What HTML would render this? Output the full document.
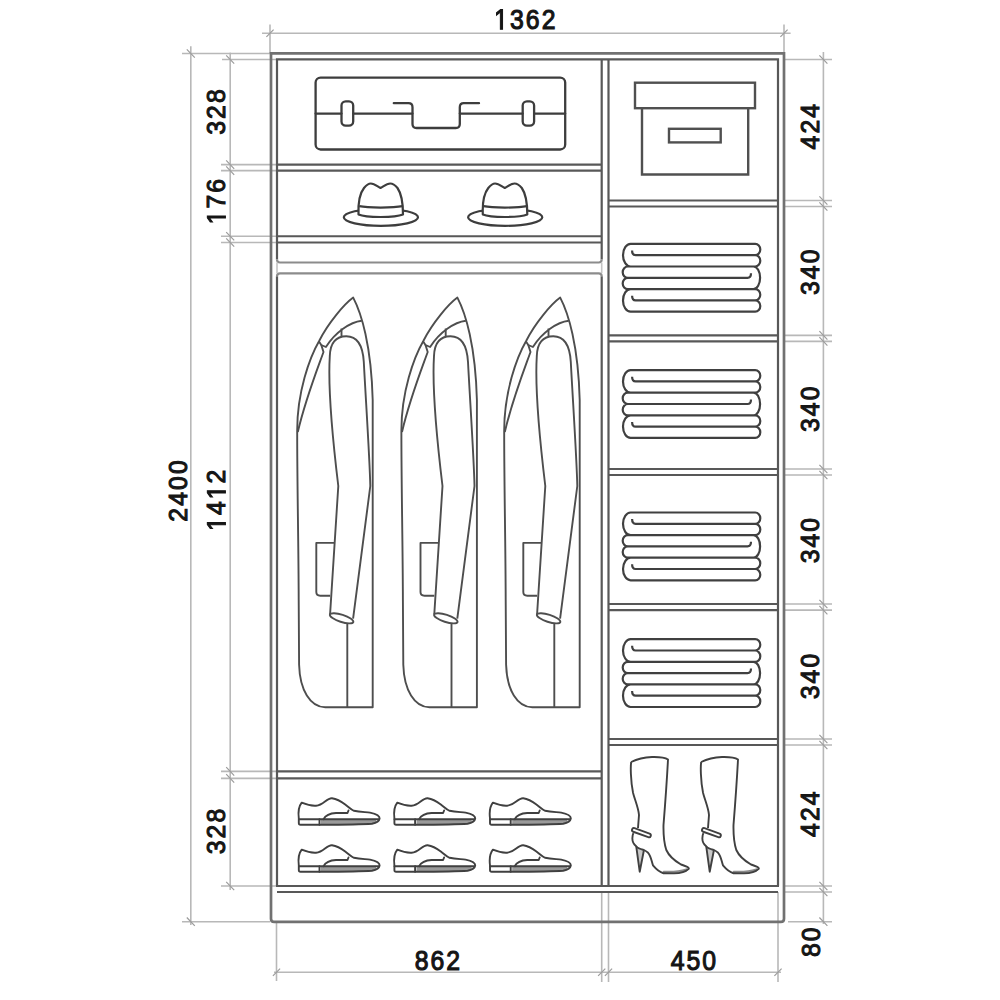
<!DOCTYPE html>
<html><head><meta charset="utf-8"><style>
html,body{margin:0;padding:0;background:#fff;}
svg{display:block;}
</style></head><body>
<svg width="1000" height="1000" viewBox="0 0 1000 1000">
<rect width="1000" height="1000" fill="#fff"/>
<path d="M262,33.2H790.6 M270,24.5V53 M784,24.5V53 M190.8,46.2V925 M182,53.5H270 M182,921.7H270 M230.2,52.6V890 M222,59.5H277 M221,164.6H277 M221,170.6H277 M221,236.25H277 M221,242.5H277 M221,771.4H277 M221,778.4H277 M221,886H277 M823.4,52V924 M784,59.5H832 M784,200.5H832 M784,206.5H832 M784,335.4H832 M784,341.4H832 M784,469H832 M784,475H832 M784,604H832 M784,610.1H832 M784,739H832 M784,745H832 M784,886H832 M784,892H832 M788,921.7H832 M274,972.2H781 M276.5,922V981 M601.7,892V982 M608.5,892V982 M778,892V982" stroke="#b8b8b8" stroke-width="1.6" fill="none"/>
<path d="M266.4,36.800000000000004L273.6,29.6 M780.4,36.800000000000004L787.6,29.6 M186.8,49.3L194.8,57.7 M186.8,917.5L194.8,925.9000000000001 M226.2,55.3L234.2,63.7 M226.2,160.4L234.2,168.79999999999998 M226.2,166.4L234.2,174.79999999999998 M226.2,232.05L234.2,240.45 M226.2,238.3L234.2,246.7 M226.2,767.1999999999999L234.2,775.6 M226.2,774.1999999999999L234.2,782.6 M226.2,881.8L234.2,890.2 M819.4,55.3L827.4,63.7 M819.4,196.3L827.4,204.7 M819.4,202.3L827.4,210.7 M819.4,331.2L827.4,339.59999999999997 M819.4,337.2L827.4,345.59999999999997 M819.4,464.8L827.4,473.2 M819.4,470.8L827.4,479.2 M819.4,599.8L827.4,608.2 M819.4,605.9L827.4,614.3000000000001 M819.4,734.8L827.4,743.2 M819.4,740.8L827.4,749.2 M819.4,881.8L827.4,890.2 M819.4,887.8L827.4,896.2 M819.4,917.5L827.4,925.9000000000001 M272.9,975.8000000000001L280.1,968.6 M598.1,975.8000000000001L605.3000000000001,968.6 M604.9,975.8000000000001L612.1,968.6 M774.4,975.8000000000001L781.6,968.6" stroke="#9c9c9c" stroke-width="1.2" fill="none"/>
<g style="font-family:'Liberation Sans',sans-serif;font-size:28.5px;fill:#151515;stroke:#151515;stroke-width:1.15px">
<g transform="translate(524.80,29.30) scale(1.0,1)"><path d="M515 0H696V1409H530L197 1180V1010L515 1237Z" transform="translate(-23.78,0) scale(0.87,1) translate(-7.93,0) scale(0.01392,-0.01392)" fill="#151515" stroke="#151515" stroke-width="82.6"/><text x="0" y="0" text-anchor="middle" transform="translate(-7.93,0) scale(0.87,1)">3</text><text x="0" y="0" text-anchor="middle" transform="translate(7.93,0) scale(0.87,1)">6</text><text x="0" y="0" text-anchor="middle" transform="translate(23.78,0) scale(0.87,1)">2</text></g>
<g transform="translate(437.40,969.70) scale(1.0,1)"><text x="0" y="0" text-anchor="middle" transform="translate(-15.85,0) scale(0.87,1)">8</text><text x="0" y="0" text-anchor="middle" transform="translate(0.00,0) scale(0.87,1)">6</text><text x="0" y="0" text-anchor="middle" transform="translate(15.85,0) scale(0.87,1)">2</text></g>
<g transform="translate(693.40,969.70) scale(1.0,1)"><text x="0" y="0" text-anchor="middle" transform="translate(-15.85,0) scale(0.87,1)">4</text><text x="0" y="0" text-anchor="middle" transform="translate(0.00,0) scale(0.87,1)">5</text><text x="0" y="0" text-anchor="middle" transform="translate(15.85,0) scale(0.87,1)">0</text></g>
<g transform="translate(187.00,491.00) rotate(-90) scale(1,0.92)"><text x="0" y="0" text-anchor="middle" transform="translate(-23.78,0) scale(0.87,1)">2</text><text x="0" y="0" text-anchor="middle" transform="translate(-7.93,0) scale(0.87,1)">4</text><text x="0" y="0" text-anchor="middle" transform="translate(7.93,0) scale(0.87,1)">0</text><text x="0" y="0" text-anchor="middle" transform="translate(23.78,0) scale(0.87,1)">0</text></g>
<g transform="translate(225.40,112.00) rotate(-90) scale(1,0.92)"><text x="0" y="0" text-anchor="middle" transform="translate(-15.85,0) scale(0.87,1)">3</text><text x="0" y="0" text-anchor="middle" transform="translate(0.00,0) scale(0.87,1)">2</text><text x="0" y="0" text-anchor="middle" transform="translate(15.85,0) scale(0.87,1)">8</text></g>
<g transform="translate(225.40,201.60) rotate(-90) scale(1,0.92)"><path d="M515 0H696V1409H530L197 1180V1010L515 1237Z" transform="translate(-15.85,0) scale(0.87,1) translate(-7.93,0) scale(0.01392,-0.01392)" fill="#151515" stroke="#151515" stroke-width="82.6"/><text x="0" y="0" text-anchor="middle" transform="translate(0.00,0) scale(0.87,1)">7</text><text x="0" y="0" text-anchor="middle" transform="translate(15.85,0) scale(0.87,1)">6</text></g>
<g transform="translate(225.40,500.30) rotate(-90) scale(1,0.92)"><path d="M515 0H696V1409H530L197 1180V1010L515 1237Z" transform="translate(-23.78,0) scale(0.87,1) translate(-7.93,0) scale(0.01392,-0.01392)" fill="#151515" stroke="#151515" stroke-width="82.6"/><text x="0" y="0" text-anchor="middle" transform="translate(-7.93,0) scale(0.87,1)">4</text><path d="M515 0H696V1409H530L197 1180V1010L515 1237Z" transform="translate(7.93,0) scale(0.87,1) translate(-7.93,0) scale(0.01392,-0.01392)" fill="#151515" stroke="#151515" stroke-width="82.6"/><text x="0" y="0" text-anchor="middle" transform="translate(23.78,0) scale(0.87,1)">2</text></g>
<g transform="translate(225.40,831.50) rotate(-90) scale(1,0.92)"><text x="0" y="0" text-anchor="middle" transform="translate(-15.85,0) scale(0.87,1)">3</text><text x="0" y="0" text-anchor="middle" transform="translate(0.00,0) scale(0.87,1)">2</text><text x="0" y="0" text-anchor="middle" transform="translate(15.85,0) scale(0.87,1)">8</text></g>
<g transform="translate(819.00,126.70) rotate(-90) scale(1,0.92)"><text x="0" y="0" text-anchor="middle" transform="translate(-15.85,0) scale(0.87,1)">4</text><text x="0" y="0" text-anchor="middle" transform="translate(0.00,0) scale(0.87,1)">2</text><text x="0" y="0" text-anchor="middle" transform="translate(15.85,0) scale(0.87,1)">4</text></g>
<g transform="translate(819.00,272.30) rotate(-90) scale(1,0.92)"><text x="0" y="0" text-anchor="middle" transform="translate(-15.85,0) scale(0.87,1)">3</text><text x="0" y="0" text-anchor="middle" transform="translate(0.00,0) scale(0.87,1)">4</text><text x="0" y="0" text-anchor="middle" transform="translate(15.85,0) scale(0.87,1)">0</text></g>
<g transform="translate(819.00,409.30) rotate(-90) scale(1,0.92)"><text x="0" y="0" text-anchor="middle" transform="translate(-15.85,0) scale(0.87,1)">3</text><text x="0" y="0" text-anchor="middle" transform="translate(0.00,0) scale(0.87,1)">4</text><text x="0" y="0" text-anchor="middle" transform="translate(15.85,0) scale(0.87,1)">0</text></g>
<g transform="translate(819.00,540.60) rotate(-90) scale(1,0.92)"><text x="0" y="0" text-anchor="middle" transform="translate(-15.85,0) scale(0.87,1)">3</text><text x="0" y="0" text-anchor="middle" transform="translate(0.00,0) scale(0.87,1)">4</text><text x="0" y="0" text-anchor="middle" transform="translate(15.85,0) scale(0.87,1)">0</text></g>
<g transform="translate(819.00,676.50) rotate(-90) scale(1,0.92)"><text x="0" y="0" text-anchor="middle" transform="translate(-15.85,0) scale(0.87,1)">3</text><text x="0" y="0" text-anchor="middle" transform="translate(0.00,0) scale(0.87,1)">4</text><text x="0" y="0" text-anchor="middle" transform="translate(15.85,0) scale(0.87,1)">0</text></g>
<g transform="translate(819.00,814.20) rotate(-90) scale(1,0.92)"><text x="0" y="0" text-anchor="middle" transform="translate(-15.85,0) scale(0.87,1)">4</text><text x="0" y="0" text-anchor="middle" transform="translate(0.00,0) scale(0.87,1)">2</text><text x="0" y="0" text-anchor="middle" transform="translate(15.85,0) scale(0.87,1)">4</text></g>
<g transform="translate(819.50,942.30) rotate(-90) scale(1,0.92)"><text x="0" y="0" text-anchor="middle" transform="translate(-7.93,0) scale(0.87,1)">8</text><text x="0" y="0" text-anchor="middle" transform="translate(7.93,0) scale(0.87,1)">0</text></g>
</g>
<path d="M271,53.4H784V918.7Q784,921.9 780.8,921.9H274.2Q271,921.9 271,918.7Z" stroke="#717171" stroke-width="2.7" fill="none"/>
<path d="M277,259.5V59.4H778V886 M601.7,259.5V59.4 M608.5,59.4V886 M277,276.3V886 M601.7,276.3V886 M276,886H779 M277,892H778 M277,164.6H601.7 M277,170.6H601.7 M277,236.25H601.7 M277,242.5H601.7 M277,771.4H601.7 M277,778.4H601.7 M608.5,200.5H778 M608.5,206.5H778 M608.5,335.4H778 M608.5,341.4H778 M608.5,469H778 M608.5,475H778 M608.5,604H778 M608.5,610.1H778 M608.5,739H778 M608.5,745H778" stroke="#585858" stroke-width="2.2" fill="none"/>
<path d="M277,259.5Q277,262.5 280,262.5H598.7Q601.7,262.5 601.7,259.5 M277,276.3Q277,273.3 280,273.3H598.7Q601.7,273.3 601.7,276.3" stroke="#8c8c8c" stroke-width="2.2" fill="none"/>
<path d="M277,262.5V273.3 M601.7,262.5V273.3" stroke="#c4c4c4" stroke-width="1.6"/>
<g stroke="#3d3d3d" stroke-width="2.3" fill="none" stroke-linecap="round" stroke-linejoin="round">
<rect x="315.6" y="77.6" width="249.6" height="71.9" rx="5"/>
<path d="M315.6,113.6H341.5 M353.2,113.6H412.5 M459.8,113.6H522.7 M534.1,113.6H565.2"/>
<rect x="341.5" y="101.4" width="11.7" height="24.3" rx="4.2"/>
<rect x="522.7" y="101.4" width="11.4" height="24.3" rx="4.2"/>
<path d="M393.8,103.2H408.5Q412.5,103.2 412.5,107.2V124Q412.5,128 416.5,128H455.8Q459.8,128 459.8,124V107.2Q459.8,103.2 463.8,103.2H479"/>
</g>
<g id="hat"><g stroke="#3d3d3d" stroke-width="2.2" fill="none" stroke-linejoin="round">
<ellipse cx="380.9" cy="217.3" rx="37.1" ry="8.5"/>
<path d="M358.5,214.5C358,202 360,193 364,188C366.5,185 368,183.5 370.8,183.5C374.5,183.5 377.5,186.5 380.5,188C383.5,186.5 386.5,183.5 390.2,183.5C393,183.5 395,185 397.5,188C401,193 403,202 403,214.5C395,217.8 366,217.8 358.5,214.5Z" fill="#fff"/>
<path d="M359.2,206.2C368,208 393,208 402.6,206.2"/>
</g></g>
<use href="#hat" transform="translate(124.3,0)"/>
<g stroke="#505050" stroke-width="2.4" fill="none">
<rect x="635" y="82.7" width="120" height="25.5"/>
<path d="M642,108.2V174.5H748.2V108.2"/>
<rect x="669" y="128.8" width="51.7" height="13.6"/>
</g>
<path d="M755.2,243.9H630.6A7.6,11.3 0 0 0 630.6,266.5H755.2 M755.2,243.9A5.1,5.65 0 0 1 755.2,255.20000000000002A5.1,5.65 0 0 1 755.2,266.5 M632.1,250.50000000000003Q632.1,255.20000000000002 635.6,255.20000000000002H755.2 M627.8,266.5H753.5A6.6,11.3 0 0 1 753.5,289.1H627.8 M627.8,266.5A5.1,5.65 0 0 0 627.8,277.8A5.1,5.65 0 0 0 627.8,289.1 M751.0,273.2Q751.0,277.8 747.5,277.8H627.8 M755.2,289.1H630.6A7.6,11.3 0 0 0 630.6,311.70000000000005H755.2 M755.2,289.1A5.1,5.65 0 0 1 755.2,300.4A5.1,5.65 0 0 1 755.2,311.70000000000005 M632.1,295.7Q632.1,300.4 635.6,300.4H755.2" stroke="#404040" stroke-width="2.2" fill="none"/>
<path d="M755.2,370.1H630.6A7.6,11.3 0 0 0 630.6,392.70000000000005H755.2 M755.2,370.1A5.1,5.65 0 0 1 755.2,381.40000000000003A5.1,5.65 0 0 1 755.2,392.70000000000005 M632.1,376.70000000000005Q632.1,381.40000000000003 635.6,381.40000000000003H755.2 M627.8,392.70000000000005H753.5A6.6,11.3 0 0 1 753.5,415.3H627.8 M627.8,392.70000000000005A5.1,5.65 0 0 0 627.8,404.0A5.1,5.65 0 0 0 627.8,415.3 M751.0,399.4Q751.0,404.0 747.5,404.0H627.8 M755.2,415.3H630.6A7.6,11.3 0 0 0 630.6,437.90000000000003H755.2 M755.2,415.3A5.1,5.65 0 0 1 755.2,426.6A5.1,5.65 0 0 1 755.2,437.90000000000003 M632.1,421.90000000000003Q632.1,426.6 635.6,426.6H755.2" stroke="#404040" stroke-width="2.2" fill="none"/>
<path d="M755.2,512.5H630.6A7.6,11.3 0 0 0 630.6,535.1H755.2 M755.2,512.5A5.1,5.65 0 0 1 755.2,523.8A5.1,5.65 0 0 1 755.2,535.1 M632.1,519.0999999999999Q632.1,523.8 635.6,523.8H755.2 M627.8,535.1H753.5A6.6,11.3 0 0 1 753.5,557.7H627.8 M627.8,535.1A5.1,5.65 0 0 0 627.8,546.4A5.1,5.65 0 0 0 627.8,557.7 M751.0,541.8Q751.0,546.4 747.5,546.4H627.8 M755.2,557.7H630.6A7.6,11.3 0 0 0 630.6,580.3H755.2 M755.2,557.7A5.1,5.65 0 0 1 755.2,569.0A5.1,5.65 0 0 1 755.2,580.3 M632.1,564.3Q632.1,569.0 635.6,569.0H755.2" stroke="#404040" stroke-width="2.2" fill="none"/>
<path d="M755.2,639.2H630.6A7.6,11.3 0 0 0 630.6,661.8000000000001H755.2 M755.2,639.2A5.1,5.65 0 0 1 755.2,650.5A5.1,5.65 0 0 1 755.2,661.8000000000001 M632.1,645.8Q632.1,650.5 635.6,650.5H755.2 M627.8,661.8000000000001H753.5A6.6,11.3 0 0 1 753.5,684.4000000000001H627.8 M627.8,661.8000000000001A5.1,5.65 0 0 0 627.8,673.1A5.1,5.65 0 0 0 627.8,684.4000000000001 M751.0,668.5Q751.0,673.1 747.5,673.1H627.8 M755.2,684.4000000000001H630.6A7.6,11.3 0 0 0 630.6,707.0H755.2 M755.2,684.4000000000001A5.1,5.65 0 0 1 755.2,695.7A5.1,5.65 0 0 1 755.2,707.0 M632.1,691.0Q632.1,695.7 635.6,695.7H755.2" stroke="#404040" stroke-width="2.2" fill="none"/>
<defs><g id="jacket"><g stroke="#4e4e4e" stroke-width="1.9" fill="none" stroke-linejoin="round">
<path d="M352.9,297.6C344,304 328,323 319.1,340.5C309,358 297,392 296.9,430C296.8,480 298.2,540 298.4,600L298.8,664.7C299.5,690 310,707.2 325,707.2H372.4V400C371,345 361,313 352.9,297.6Z"/>
<path d="M361.4,320.7C350,322 335,332 325.6,347L321,345L318.5,341.2"/>
<path d="M321,345L323.2,352C316,372 305,400 297.5,432"/>
<path d="M341.2,328.5V336.3"/>
<path d="M329.5,356C330,343 336,336.3 346,336.3C357,336.3 362.5,345 363.5,362C365.5,400 369.5,460 370,486L352.8,618.7"/>
<path d="M329.5,356C328,380 330,420 338,486L329.8,614"/>
<ellipse cx="341.3" cy="618.3" rx="12.3" ry="3.6" transform="rotate(18 341.3 618.3)"/>
<path d="M347,623.3V707.2"/>
<path d="M334.4,542.9H316V592Q316,595.7 320,595.7H329.8"/>
</g></g></defs>
<use href="#jacket" transform="translate(0.3,0)"/>
<use href="#jacket" transform="translate(104.5,0)"/>
<use href="#jacket" transform="translate(207.3,0)"/>
<g id="shoe"><g stroke="#404040" stroke-width="1.9" fill="none" stroke-linejoin="round" stroke-linecap="round">
<path d="M321,822C340,822.2 360,822.2 376,820.8" stroke-width="4.2" stroke="#9a9a9a" stroke-linecap="butt"/>
<path d="M301.7,802.7C306,804.5 311,806 316,805.7C320,805.4 322.5,803.5 325,801.5C327.5,799.5 329.5,798 332,798.2C338,799 342,802 345.2,804.5C349,807.5 351,809.8 354,810.8C360,812.2 366,812 370,812.6C376,813.8 379.8,816 379.6,818.5C379.2,821 376,823 372,823.7C360,824.4 340,824.6 319.5,824.8H300.5Q298.8,824.8 298.8,823V818.5C298,812 299,806 301.7,802.7Z"/>
<path d="M298.9,819.2H320.5 M320.5,819.3C340,819.2 360,819.2 378.5,819.2"/>
<path d="M319.5,824.8V819.2"/>
<path d="M323.5,819.2C326,814.5 330,813.3 336,813H347.5L348.5,810.5"/>
</g></g>
<use href="#shoe" transform="translate(95.6,0)"/>
<use href="#shoe" transform="translate(191.2,0)"/>
<use href="#shoe" transform="translate(0,47)"/>
<use href="#shoe" transform="translate(95.6,47)"/>
<use href="#shoe" transform="translate(191.2,47)"/>
<g id="boot"><g stroke="#404040" stroke-width="1.9" fill="none" stroke-linejoin="round">
<path d="M636.2,846.2L639.7,871.7L643.9,850.2" fill="#c8c8c8"/>
<path d="M664,872.2C672,872.6 680,872 686.5,869.8" stroke="#8a8a8a" stroke-width="3" stroke-linecap="round"/>
<path d="M631.2,762C636,759.5 645,757.2 652,757C660,756.8 665,757.5 668,759.5C667.2,775 665.5,800 663.5,825C663.3,835 664,843 666.3,850C669,856 675,861 681,864.5C686,866.5 689.5,867 688.7,868.9C686,871.5 680,873.3 674,873.4L663.5,873.3C659,872 656,869 653,865.4C651.5,861 651,856 648.1,852.8C646,851 645,850.5 643.9,850C641,849.2 638,848.6 636.2,846.2C633.6,844 632.2,841 632.4,838C632.5,836 633,834 633.4,833.2"/>
<path d="M631.2,762C630.5,766 630.5,780 633,792.5C634.5,799 638.5,808 639,815L638,828"/>
<rect x="631.5" y="830.8" width="19.8" height="3.8" rx="1.9" transform="rotate(20 641.4 832.7)" fill="#fff"/>
</g></g>
<use href="#boot" transform="translate(70,0)"/>
</svg>
</body></html>
